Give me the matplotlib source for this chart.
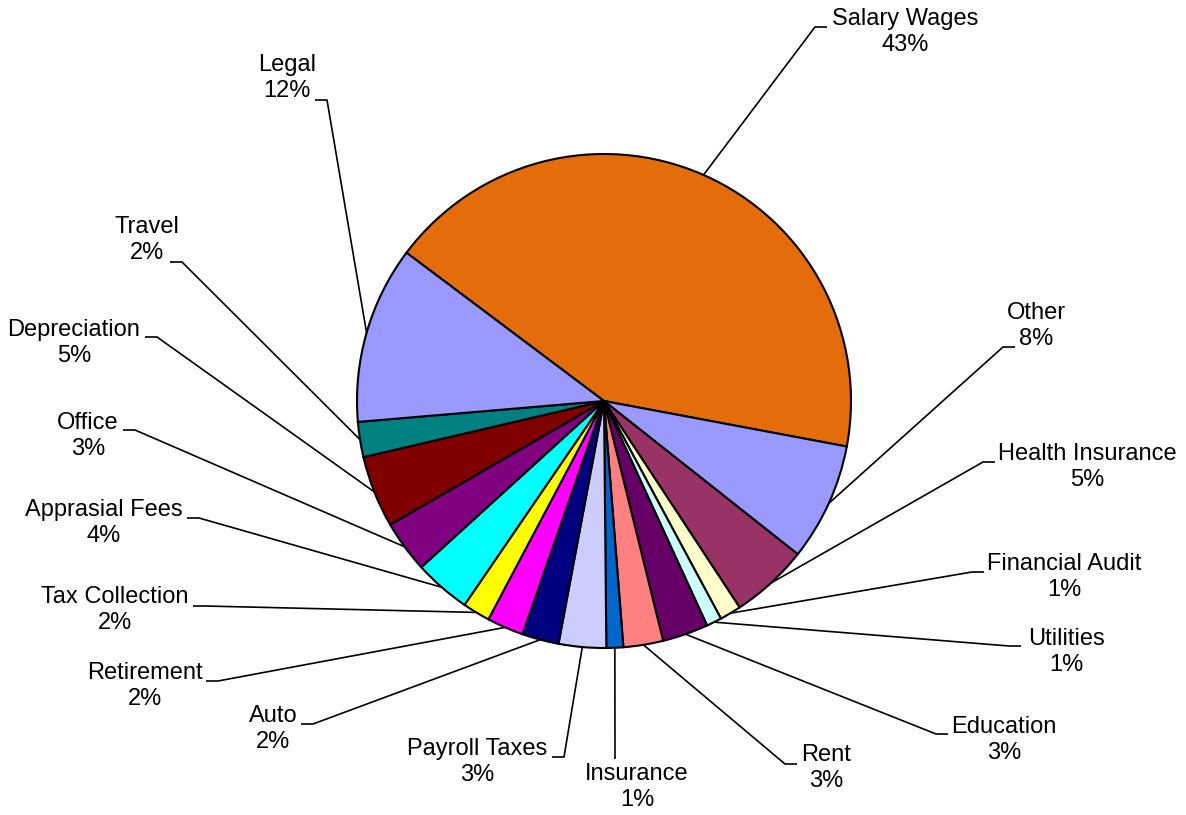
import numpy as np
import matplotlib
matplotlib.use("Agg")
import matplotlib.pyplot as plt

plt.rcParams['font.family'] = ['Liberation Sans', 'DejaVu Sans']

# data, clockwise from the top-left edge of the big slice
names = ['Salary Wages', 'Other', 'Health Insurance', 'Financial Audit', 'Utilities',
         'Education', 'Rent', 'Insurance', 'Payroll Taxes', 'Auto', 'Retirement',
         'Tax Collection', 'Apprasial Fees', 'Office', 'Depreciation', 'Travel', 'Legal']
values = [42.7, 7.7, 5.1, 1.4, 1.0, 3.0, 2.6, 1.1, 3.1, 2.4, 2.4, 1.8, 3.7, 3.4, 4.7, 2.3, 11.6]
colors = ['#E46C0A', '#9999FF', '#993366', '#FFFFCC', '#CCFFFF', '#660066', '#FF8080',
          '#0066CC', '#CCCCFF', '#000080', '#FF00FF', '#FFFF00', '#00FFFF', '#800080',
          '#800000', '#008080', '#9999FF']

# layout (pixel positions, y measured from the top)
W, H = 1186, 815
label_pos = [(905, 32), (1036, 326), (1087, 467), (1064, 577), (1066, 652), (1004, 740),
             (826, 768), (637, 787), (477, 762), (273, 729), (145, 686), (115, 610),
             (104, 523), (88, 436), (74, 343), (147, 240), (287, 78)]
elbow_pos = [(815, 27), (1003, 347), (983, 462), (972, 572), (1009, 646), (936, 734),
             (785, 764), (615, 759), (564, 757), (313, 724), (218, 681), (205, 606),
             (199, 518), (135, 430), (157, 337), (182, 262), (327, 100)]
cx, cy, radius = 604, H - 401, 247

fig = plt.figure(figsize=(W / 100, H / 100), dpi=100)
ax = fig.add_axes([0, 0, 1, 1])

wedges, _ = ax.pie(values, colors=colors, startangle=143.1, counterclock=False,
                   center=(cx, cy), radius=radius, frame=True,
                   wedgeprops=dict(edgecolor='black', linewidth=1.5))

total = sum(values)
for w, name, val, lp, ep in zip(wedges, names, values, label_pos, elbow_pos):
    mid = np.deg2rad((w.theta1 + w.theta2) / 2)
    ax_x = cx + radius * np.cos(mid)
    ax_y = cy + radius * np.sin(mid)
    ex, ey = ep[0], H - ep[1]
    tick = 0 if name == 'Insurance' else 12
    tx = ex + tick * np.sign(lp[0] - ex)
    ax.plot([ax_x, ex, tx], [ax_y, ey, ey], color='black', lw=1.2, zorder=1,
            solid_capstyle='butt')
    ax.text(lp[0], H - lp[1], '{}\n{:.0f}%'.format(name, val / total * 100),
            ha='center', va='center', multialignment='center',
            fontsize=17, linespacing=1.25, color='black')

ax.set_xlim(0, W)
ax.set_ylim(0, H)
ax.set_aspect('equal')
ax.axis('off')

fig.savefig('out.png', dpi=100)
